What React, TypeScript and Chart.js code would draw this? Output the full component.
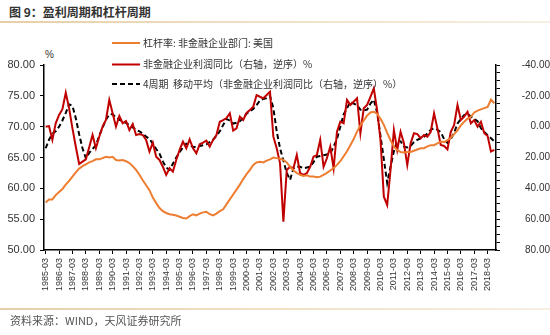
import React, { useEffect, useRef } from 'react';
import { Chart, registerables } from 'chart.js';

Chart.register(...registerables);

// Quarterly categories 1985-03 … 2018-09
const years: number[] = [];
for (let y = 1985; y <= 2018; y++) years.push(y);
const quarterEnds = ['03', '06', '09', '12'];
const categories: string[] = years
  .flatMap((y) => quarterEnds.map((q) => `${y}-${q}`))
  .slice(0, 135);

// 杠杆率: 非金融企业部门: 美国 (left axis, %)
const leverage: number[] = [
  57.7, 58.2, 58.2, 58.9,
  59.4, 59.9, 60.6, 61.2,
  61.9, 62.6, 63.2, 63.6,
  63.9, 64.2, 64.4, 64.7,
  64.7, 64.9, 65.1, 65.0,
  65.1, 64.6, 64.5, 64.6,
  64.4, 64.1, 63.6, 63.0,
  62.2, 61.3, 60.5, 59.7,
  58.5, 57.6, 56.8, 56.3,
  56.0, 55.8, 55.7, 55.6,
  55.4, 55.2, 55.1, 55.5,
  55.8, 55.6, 55.9, 56.1,
  56.2, 55.8, 55.6, 55.9,
  56.3, 56.6, 57.4, 58.2,
  59.0, 59.8, 60.6, 61.5,
  62.3, 63.0, 63.8, 64.2,
  64.3, 64.2, 64.5, 64.7,
  65.0, 64.9, 64.8, 64.6,
  64.2, 63.5, 62.9, 62.5,
  62.2, 62.0, 62.1, 61.9,
  61.9, 61.8, 61.9, 62.2,
  62.5, 62.9, 63.3, 63.8,
  64.4, 65.2, 66.0, 67.0,
  68.0, 69.2, 70.2, 71.0,
  71.8, 72.3, 72.4, 72.1,
  71.3, 70.3, 69.0, 67.8,
  66.8, 66.2, 65.9, 65.8,
  65.9, 65.9, 66.1, 66.3,
  66.5, 66.5, 66.8, 67.0,
  67.0, 67.3, 67.6, 67.5,
  67.8, 68.2, 68.8, 69.4,
  70.2, 70.8, 71.3, 71.6,
  72.3, 72.6, 72.8, 73.0,
  73.2, 74.4, 73.8,
];

// 非金融企业利润同比 (right axis, reversed, %)
const profitYoY: number[] = [
  0.0, -0.4, 8.6, -2.2,
  -7.6, -11.3, -22.0, -11.9,
  1.1, 13.0, 24.2, 22.7,
  21.2, 13.4, 5.4, 14.0,
  6.5, 0.0, -4.3, -17.3,
  -8.7, 0.0, -6.9, -2.2,
  -3.7, 2.2, -1.7, 5.4,
  4.8, 5.4, 8.6, 16.2,
  10.4, 19.5, 21.6, 26.0,
  31.3, 27.0, 29.2, 21.6,
  15.1, 9.7, 14.0, 8.2,
  14.0, 17.3, 11.4, 10.4,
  9.1, 13.0, 8.6, 5.4,
  -3.2, -4.3, -5.6, -8.7,
  2.6, 1.1, -6.5, -4.3,
  -8.9, -10.8, -13.0, -20.5,
  -19.4, -18.4, -20.5, -22.7,
  6.5, 14.0, 23.8, 61.6,
  28.1, 26.0, 27.0, 18.4,
  30.2, 31.3, 30.2, 26.0,
  19.5, 18.4, 8.6, 26.0,
  20.5, 13.0, 27.0, 3.3,
  -3.2, -2.2, -17.3, -14.1,
  -16.2, -18.4, 4.3, -11.9,
  -14.1, -19.4, -24.9, -10.8,
  8.6, 45.4, 50.8, 28.1,
  2.2, 15.1, 3.3, 10.8,
  24.9, 10.8, 4.3, 4.8,
  7.5, 5.4, 6.5, 3.3,
  -8.7, 1.1, 11.9, 12.5,
  14.7, 3.3, -1.1, -14.1,
  -4.3, -6.5, -9.7, -2.2,
  -4.3, 0.0, -3.2, 4.3,
  6.1, 16.2, 15.1,
];

// 4周期 移动平均 (right axis, reversed, %)
const profitMA4: number[] = [
  14.0, 8.5, 4.5, 3.0,
  0.0, -4.0, -9.0, -14.5,
  -13.5, -5.5, 5.0, 14.0,
  20.5, 17.0, 14.5, 12.0,
  6.0, 0.5, -4.5, -8.0,
  -8.0, -6.0, -4.5, -3.5,
  -2.5, -1.0, 0.5, 2.0,
  3.0, 4.5, 6.5, 8.0,
  11.0, 14.5, 17.5, 22.5,
  26.5, 28.0, 24.0, 20.0,
  16.5, 13.5, 11.0, 12.0,
  13.0, 13.5, 12.5, 12.0,
  11.5, 10.0, 8.5, 6.0,
  3.0, -1.0, -5.0, -4.0,
  -2.0, -2.5, -3.5, -5.5,
  -8.5, -10.0, -11.5, -14.0,
  -17.0, -18.0, -18.5, -20.0,
  -12.0, 3.0, 14.0, 22.0,
  30.0, 34.5, 27.0, 26.0,
  26.0, 27.0, 26.5, 26.0,
  23.0, 19.5, 19.0, 18.5,
  18.0, 17.5, 13.0, 8.0,
  0.0, -8.0, -12.0, -16.0,
  -15.0, -14.0, -11.0, -10.5,
  -11.0, -15.0, -17.5, -9.0,
  6.0, 21.0, 36.5, 26.0,
  16.0, 9.0, 9.5, 13.0,
  13.5, 12.5, 10.0, 8.5,
  7.5, 6.5, 4.5, 2.0,
  1.0, 2.0, 3.5, 8.0,
  10.5, 8.0, 4.0, -2.0,
  -5.0, -7.5, -8.5, -6.5,
  -5.0, -3.5, 1.0, 3.5,
  5.5, 7.5, 9.5,
];

const leftTicks = [50, 55, 60, 65, 70, 75, 80];
const seriesNames = [
  '杠杆率: 非金融企业部门: 美国',
  '非金融企业利润同比（右轴，逆序）%',
  '4周期  移动平均（非金融企业利润同比（右轴，逆序）%）',
];
const seriesColors = ['#ED7D31', '#C00000', '#000000'];

const CJK = '"Noto Sans CJK SC", "Noto Sans", sans-serif';
const LATIN = '"Liberation Sans", Arial, sans-serif';

const legendPlugin = {
  id: 'customLegend',
  afterDraw(chart: any) {
    const ctx = chart.ctx as CanvasRenderingContext2D;
    const rows = [43, 64.5, 84];
    ctx.save();
    rows.forEach((y, i) => {
      ctx.beginPath();
      ctx.strokeStyle = seriesColors[i];
      ctx.lineWidth = 2;
      ctx.setLineDash(i === 2 ? [5, 3] : []);
      ctx.moveTo(112, y);
      ctx.lineTo(140, y);
      ctx.stroke();
      ctx.setLineDash([]);
      ctx.fillStyle = '#333';
      ctx.font = `10px ${CJK}`;
      ctx.textBaseline = 'middle';
      ctx.textAlign = 'left';
      ctx.fillText(seriesNames[i], 143, y);
    });
    ctx.restore();
  },
};

export default function App() {
  const ref = useRef<HTMLCanvasElement | null>(null);

  useEffect(() => {
    if (!ref.current) return;
    const chart = new Chart(ref.current, {
      type: 'line',
      data: {
        labels: categories,
        datasets: [
          {
            label: seriesNames[0],
            data: leverage,
            yAxisID: 'y',
            borderColor: seriesColors[0],
            borderWidth: 2,
            pointRadius: 0,
            tension: 0,
          },
          {
            label: seriesNames[1],
            data: profitYoY,
            yAxisID: 'y1',
            borderColor: seriesColors[1],
            borderWidth: 2,
            pointRadius: 0,
            tension: 0,
          },
          {
            label: seriesNames[2],
            data: profitMA4,
            yAxisID: 'y1',
            borderColor: seriesColors[2],
            borderWidth: 2,
            borderDash: [5, 3],
            pointRadius: 0,
            tension: 0,
          },
        ],
      },
      options: {
        responsive: false,
        animation: false,
        layout: { padding: { top: 65, left: 0, right: 0, bottom: 0 } },
        plugins: { legend: { display: false }, tooltip: { enabled: false } },
        scales: {
          x: {
            offset: true,
            grid: {
              display: true,
              drawOnChartArea: false,
              drawTicks: true,
              tickLength: 4,
              tickColor: (c: any) => (c.index % 4 === 0 ? '#000' : 'rgba(0,0,0,0)'),
              color: '#000',
            },
            border: { display: true, color: '#000', width: 1.5 },
            ticks: {
              autoSkip: false,
              minRotation: 90,
              maxRotation: 90,
              padding: 4,
              color: '#333',
              font: { size: 9, family: LATIN },
              callback: (_v: any, i: number) => (i % 4 === 0 ? categories[i] : ''),
            },
            afterFit: (s: any) => {
              s.height = 85;
            },
          },
          y: {
            position: 'left',
            min: 50,
            max: 80,
            afterBuildTicks: (s: any) => {
              s.ticks = leftTicks.map((v) => ({ value: v }));
            },
            grid: { drawOnChartArea: false, tickLength: 4, color: '#000' },
            border: { display: true, color: '#000', width: 1.5 },
            ticks: {
              padding: 5,
              color: '#333',
              font: { size: 11, family: LATIN },
              callback: (v: any) => Number(v).toFixed(2),
            },
            afterFit: (s: any) => {
              s.width = 44;
            },
          },
          y1: {
            position: 'right',
            min: -40,
            max: 80,
            reverse: true,
            grid: { drawOnChartArea: false, tickLength: 4, color: '#000' },
            border: { display: true, color: '#000', width: 1.5 },
            ticks: {
              stepSize: 5,
              autoSkip: false,
              padding: 4,
              crossAlign: 'far',
              color: '#333',
              font: { size: 10, family: LATIN },
              callback: (v: any) => (Number(v) % 20 === 0 ? Number(v).toFixed(2) : ''),
            },
            afterFit: (s: any) => {
              s.width = 54;
            },
          },
        },
      } as any,
      plugins: [legendPlugin],
    });
    return () => chart.destroy();
  }, []);

  return (
    <div
      style={{
        position: 'fixed',
        left: 0,
        top: 0,
        width: 550,
        height: 335,
        background: '#fff',
        overflow: 'hidden',
      }}
    >
      <div
        style={{
          position: 'absolute',
          left: 9,
          top: 3,
          fontFamily: CJK,
          fontSize: 12,
          fontWeight: 'bold',
          color: '#333',
          lineHeight: '18px',
          whiteSpace: 'nowrap',
        }}
      >
        图 9：盈利周期和杠杆周期
      </div>
      <div
        style={{
          position: 'absolute',
          left: 0,
          top: 21,
          width: 550,
          height: 2,
          background: 'linear-gradient(to right, #e6cfa8, #f2e4cc 60%, #f7efe2)',
        }}
      />
      <div
        style={{
          position: 'absolute',
          left: 45,
          top: 48,
          fontFamily: LATIN,
          fontSize: 10,
          color: '#333',
          lineHeight: '14px',
        }}
      >
        %
      </div>
      <canvas
        ref={ref}
        width={550}
        height={335}
        style={{ position: 'absolute', left: 0, top: 0, width: 550, height: 335 }}
      />
      <div
        style={{
          position: 'absolute',
          left: 0,
          top: 308,
          width: 550,
          height: 2,
          background: 'linear-gradient(to right, #e6cfa8, #f2e4cc 60%, #f7efe2)',
        }}
      />
      <div
        style={{
          position: 'absolute',
          left: 10,
          top: 313,
          fontFamily: CJK,
          fontSize: 11,
          color: '#555',
          lineHeight: '15px',
          whiteSpace: 'nowrap',
        }}
      >
        资料来源：WIND，天风证券研究所
      </div>
    </div>
  );
}
